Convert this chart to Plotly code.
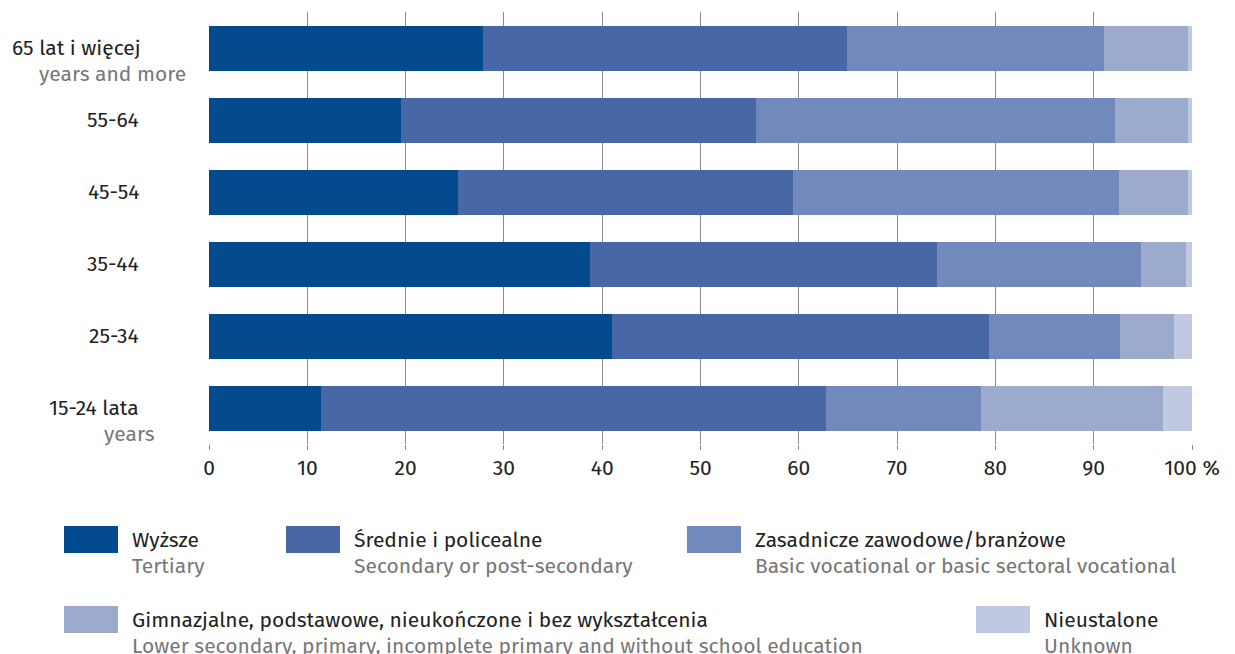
import plotly.graph_objects as go

categories = ["15-24", "25-34", "35-44", "45-54", "55-64", "65+"]
tertiary = [11.4, 41.0, 38.8, 25.3, 19.5, 27.9]
secondary = [51.4, 38.3, 35.3, 34.1, 36.1, 37.0]
vocational = [15.7, 13.4, 20.7, 33.2, 36.6, 26.1]
lower = [18.6, 5.5, 4.6, 7.0, 7.4, 8.6]
unknown = [2.9, 1.8, 0.6, 0.4, 0.4, 0.4]

series_pl = ["Wyższe", "Średnie i policealne", "Zasadnicze zawodowe/branżowe",
             "Gimnazjalne, podstawowe, nieukończone i bez wykształcenia", "Nieustalone"]
series_en = ["Tertiary", "Secondary or post-secondary", "Basic vocational or basic sectoral vocational",
             "Lower secondary, primary, incomplete primary and without school education", "Unknown"]
colors = ["#034a8f", "#4767a6", "#7289bb", "#9baacd", "#c1c9e2"]

cat_line1 = ["15-24 lata", "25-34", "35-44", "45-54", "55-64", "65 lat i więcej"]
cat_line2 = ["years", "", "", "", "", "years and more"]

tick_vals = list(range(0, 101, 10))
tick_text = [str(v) for v in tick_vals[:-1]] + ["100 %"]

FONT = "Fira Sans, Noto Sans, Roboto, sans-serif"
FS = 21
DARK = "#222222"
GRAY = "#777777"

W, H = 1235, 654
L, R, T, B = 209, 43, 12, 210
PW, PH = W - L - R, H - T - B


def px(x):
    return (x - L) / PW


def py(y):
    return (H - B - y) / PH


fig = go.Figure()
for vals, name, col in zip([tertiary, secondary, vocational, lower, unknown], series_pl, colors):
    fig.add_trace(go.Bar(y=categories, x=vals, orientation="h", name=name,
                         marker=dict(color=col, line=dict(width=0)), showlegend=False))

ann = []
line1_right = {0: 141, 1: 141, 2: 141, 3: 141, 4: 141, 5: 143}
line2_right = {0: 157, 5: 188}
for i, (a, b) in enumerate(zip(cat_line1, cat_line2)):
    yc = 408 - i * 72
    ann.append(dict(x=px(line1_right[i]), y=py(yc), xref="paper", yref="paper", text=a,
                    xanchor="right", yanchor="middle", showarrow=False,
                    font=dict(family=FONT, size=FS, color=DARK)))
    if b:
        ann.append(dict(x=px(line2_right[i]), y=py(yc + 26), xref="paper", yref="paper", text=b,
                        xanchor="right", yanchor="middle", showarrow=False,
                        font=dict(family=FONT, size=FS, color=GRAY)))

leg_pos = [(64, 526), (286, 526), (687, 526), (64, 606), (976, 606)]
shapes = []
for (x0, y0), col, t1, t2 in zip(leg_pos, colors, series_pl, series_en):
    shapes.append(dict(type="rect", xref="paper", yref="paper", x0=px(x0), x1=px(x0 + 54),
                       y0=py(y0 + 27), y1=py(y0), fillcolor=col, line=dict(width=0)))
    ann.append(dict(x=px(x0 + 66), y=py(y0 + 14), xref="paper", yref="paper", text=t1,
                    xanchor="left", yanchor="middle", showarrow=False,
                    font=dict(family=FONT, size=FS, color=DARK)))
    ann.append(dict(x=px(x0 + 66), y=py(y0 + 40), xref="paper", yref="paper", text=t2,
                    xanchor="left", yanchor="middle", showarrow=False,
                    font=dict(family=FONT, size=FS, color=GRAY)))

fig.update_layout(
    barmode="stack",
    bargap=0.375,
    width=W, height=H,
    margin=dict(l=L, r=R, t=T, b=B),
    plot_bgcolor="white", paper_bgcolor="white",
    font=dict(family=FONT, size=FS, color=DARK),
    xaxis=dict(range=[0, 100], tickvals=tick_vals, ticktext=tick_text,
               showgrid=True, gridcolor="#8c8c8c", gridwidth=1, zeroline=False,
               ticks="outside", ticklen=5, tickcolor="#8c8c8c",
               tickfont=dict(family=FONT, size=FS, color=DARK), showline=False,
               fixedrange=True),
    yaxis=dict(showticklabels=False, showgrid=False, zeroline=False, showline=False,
               categoryorder="array", categoryarray=categories, fixedrange=True),
    annotations=ann,
    shapes=shapes,
)

fig.write_html("out.html", config={"displayModeBar": False},
               post_script="document.body.style.margin='0';document.body.style.overflow='hidden';")
